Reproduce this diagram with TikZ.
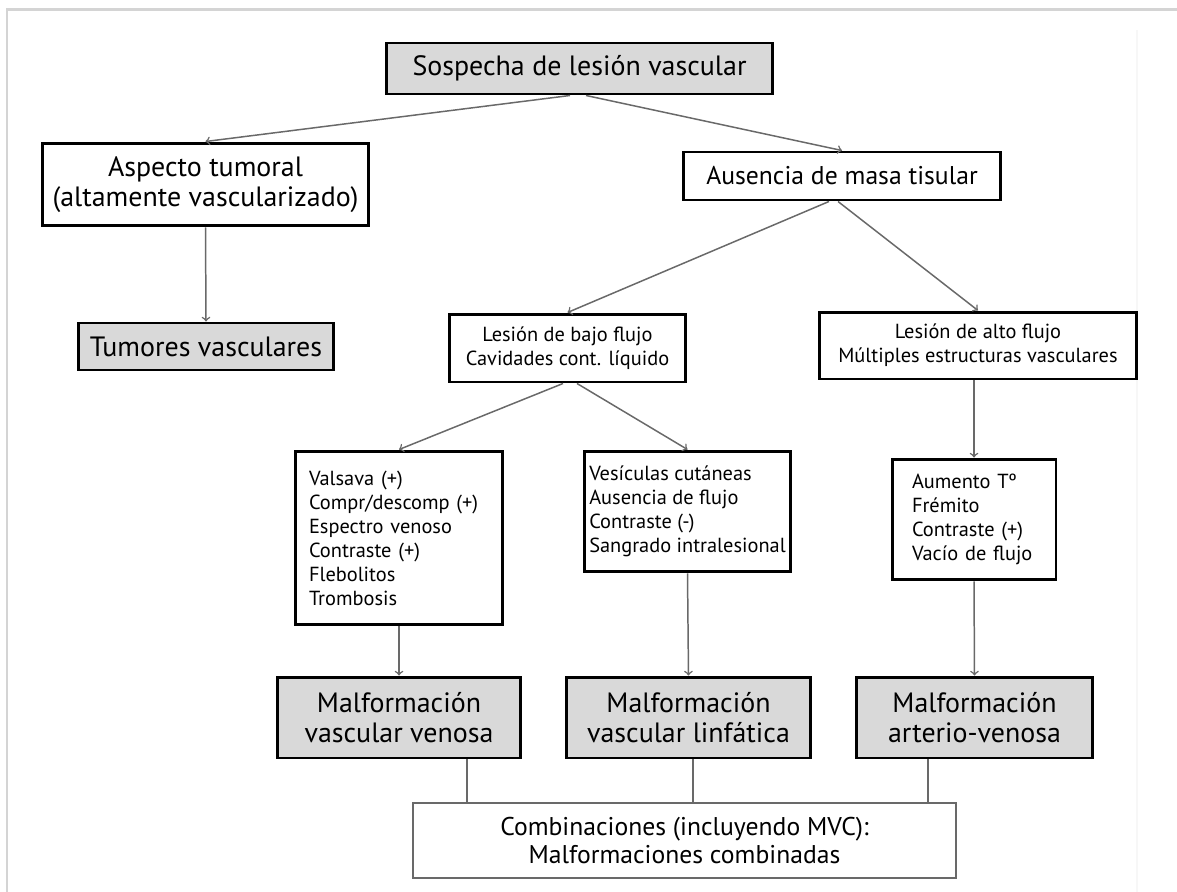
\documentclass[tikz,border=0pt]{standalone}
\usepackage{fontspec}
\setmainfont{PT Sans}
\usepackage{tikz}
\usetikzlibrary{arrows}
\definecolor{boxgray}{RGB}{217,217,217}
\definecolor{linegray}{RGB}{105,105,105}
\definecolor{framegray}{RGB}{212,212,212}
\newcommand{\fbig}{\fontsize{15.9pt}{17.1pt}\selectfont}
\newcommand{\fmed}{\fontsize{14.6pt}{16pt}\selectfont}
\newcommand{\fsmall}{\fontsize{11.6pt}{13.66pt}\selectfont}
\tikzstyle{process} = [rectangle, draw=black, line width=1.7pt, align=center, inner sep=0pt]
\tikzstyle{result} = [process, fill=boxgray]
\tikzstyle{signs} = [rectangle, draw=black, line width=1.7pt, align=left, font=\fsmall]
\tikzstyle{arrow} = [draw=linegray, line width=0.85pt, ->, >=to]
\tikzstyle{link} = [draw=linegray, line width=0.85pt]

\begin{document}
\begin{tikzpicture}[x=0.02cm, y=-0.02cm]
    \useasboundingbox (0,0) rectangle (1177,892);
    % marco
    \draw [framegray, line width=1.7pt] (1177,9.5) -- (7,9.5) -- (7,892);
    \draw [gray!6, line width=0.6pt] (1137,30) -- (1137,892);

    \node (sospecha) [result, minimum width=7.74cm, minimum height=1.02cm, font=\fbig] at (579.5,68.5) {Sospecha de lesión vascular};
    \node (aspecto) [process, minimum width=6.54cm, minimum height=1.66cm, font=\fbig] at (205.5,184.5) {Aspecto tumoral\\(altamente vascularizado)};
    \node (ausencia) [process, minimum width=6.36cm, minimum height=0.96cm, font=\fmed] at (842,176) {Ausencia de masa tisular};
    \node (tumores) [result, minimum width=5.12cm, minimum height=0.94cm, font=\fbig] at (206,346.5) {Tumores vasculares};
    \node (bajo) [process, minimum width=4.74cm, minimum height=1.36cm, font=\fsmall] at (567.5,348) {Lesión de bajo flujo\\Cavidades cont. líquido};
    \node (alto) [process, minimum width=6.36cm, minimum height=1.34cm, font=\fsmall] at (978,345.5) {Lesión de alto flujo\\Múltiples estructuras vasculares};

    \node (valsava) [signs, text width=3.6cm, inner xsep=0.28cm, minimum height=3.48cm] at (399,538) {Valsava (+)\\Compr/descomp (+)\\Espectro venoso\\Contraste (+)\\Flebolitos\\Trombosis};
    \node (vesiculas) [signs, minimum width=3.94cm, inner xsep=0.1cm, minimum height=2.42cm] at (687.5,511.5) {Vesículas cutáneas\\Ausencia de flujo\\Contraste (-)\\Sangrado intralesional};
    \node (aumento) [signs, text width=2.48cm, inner xsep=0.4cm, minimum height=2.42cm] at (974,519.5) {Aumento Tº\\Frémito\\Contraste (+)\\Vacío de flujo};

    \node (venosa) [result, minimum width=4.88cm, minimum height=1.62cm, font=\fbig] at (399,717.5) {Malformación\\vascular venosa};
    \node (linfatica) [result, minimum width=4.9cm, minimum height=1.62cm, font=\fbig] at (688.5,717.5) {Malformación\\vascular linfática};
    \node (arterio) [result, minimum width=4.74cm, minimum height=1.62cm, font=\fbig] at (974.5,717.5) {Malformación\\arterio-venosa};
    \node (combi) [process, draw=linegray, line width=0.85pt, minimum width=10.86cm, minimum height=1.5cm, font=\fmed] at (684.5,840.5) {Combinaciones (incluyendo MVC):\\Malformaciones combinadas};

    \draw [arrow] ([xshift=-0.19cm]sospecha.south) -- (aspecto.north);
    \draw [arrow] ([xshift=0.13cm]sospecha.south) -- (ausencia.north);
    \draw [arrow] (aspecto.south) -- (tumores.north);
    \draw [arrow] ([xshift=-0.26cm]ausencia.south) -- (bajo.north);
    \draw [arrow] ([xshift=-0.08cm]ausencia.south) -- (alto.north);
    \draw [arrow] ([xshift=-0.09cm]bajo.south) -- (valsava.north);
    \draw [arrow] ([xshift=0.19cm]bajo.south) -- (vesiculas.north);
    \draw [arrow] (aumento.north |- alto.south) -- (aumento.north);
    \draw [arrow] (valsava.south) -- (venosa.north);
    \draw [arrow] (vesiculas.south) -- (linfatica.north);
    \draw [arrow] (aumento.south) -- (arterio.north);

    \coordinate (c1) at ([xshift=1.36cm]venosa.south);
    \coordinate (c2) at ([xshift=0.09cm]linfatica.south);
    \coordinate (c3) at ([xshift=-0.93cm]arterio.south);
    \draw [link] (c1) -- (c1 |- combi.north);
    \draw [link] (c2) -- (c2 |- combi.north);
    \draw [link] (c3) -- (c3 |- combi.north);
\end{tikzpicture}
\end{document}
